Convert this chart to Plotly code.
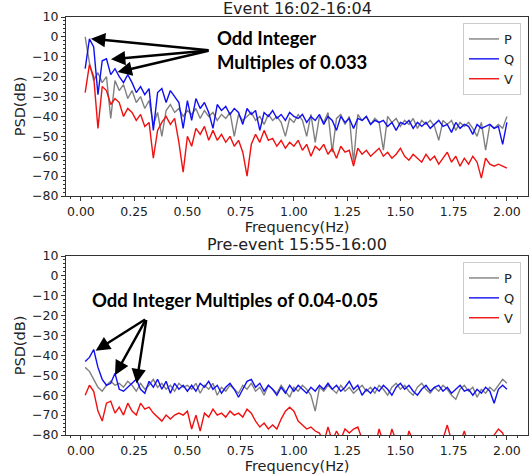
import plotly.graph_objects as go

# ---------------- data ----------------
N_POINTS = 100
FREQ_STEP = 0.02
freq = [round(FREQ_STEP * (i + 1), 2) for i in range(N_POINTS)]

event_P = [0, -13, -22, -18, -23, -20, -41, -22, -27, -24,
           -31, -27, -33, -30, -36, -32, -44, -38, -50, -37,
           -34, -38, -36, -40, -37, -39, -36, -41, -37, -40,
           -38, -42, -39, -41, -38, -50, -39, -42, -40, -38,
           -42, -40, -44, -39, -42, -40, -43, -50, -41, -43,
           -39, -42, -50, -39, -53, -40, -43, -38, -58, -41,
           -39, -44, -40, -63, -39, -42, -40, -44, -41, -43,
           -57, -40, -43, -41, -45, -42, -44, -41, -46, -42,
           -44, -42, -45, -52, -42, -44, -42, -47, -43, -45,
           -43, -46, -50, -43, -57, -44, -46, -44, -46, -40]

event_Q = [-16, -1, -5, -29, -12, -11, -19, -16, -20, -23,
           -19, -23, -28, -25, -29, -26, -47, -28, -26, -33,
           -27, -30, -33, -46, -32, -42, -31, -36, -33, -38,
           -46, -34, -37, -35, -39, -36, -38, -44, -36, -39,
           -37, -47, -38, -40, -37, -41, -39, -42, -38, -40,
           -41, -39, -43, -40, -42, -39, -44, -40, -42, -47,
           -40, -43, -41, -46, -41, -42, -40, -44, -42, -43,
           -42, -45, -43, -47, -43, -44, -42, -46, -43, -45,
           -43, -46, -44, -42, -45, -44, -48, -43, -46, -44,
           -45, -49, -44, -46, -45, -44, -46, -45, -54, -43]

event_V = [-28, -14, -20, -46, -25, -27, -34, -31, -33, -40,
           -36, -38, -42, -39, -45, -43, -61, -47, -43, -40,
           -44, -41, -53, -68, -50, -55, -46, -49, -45, -52,
           -47, -52, -49, -53, -50, -55, -52, -58, -70, -54,
           -49, -53, -47, -52, -51, -55, -52, -56, -53, -55,
           -52, -57, -54, -60, -55, -57, -54, -59, -56, -61,
           -55, -58, -57, -65, -56, -59, -57, -60, -58, -56,
           -60, -58, -61, -59, -56, -60, -62, -59, -61, -63,
           -59, -62, -60, -64, -61, -58, -63, -60, -65, -61,
           -64, -60, -63, -71, -61, -64, -65, -64, -65, -66]

pre_P = [-46, -48, -52, -56, -58, -55, -53, -55, -54, -56,
         -53, -55, -58, -54, -57, -55, -52, -56, -54, -57,
         -55, -58, -54, -56, -55, -57, -54, -59, -55, -57,
         -54, -60, -56, -58, -55, -57, -59, -55, -57, -54,
         -58, -56, -60, -55, -57, -59, -55, -58, -61, -56,
         -58, -55, -57, -60, -68, -56, -58, -55, -57, -59,
         -55, -58, -56, -59, -57, -55, -58, -56, -59, -55,
         -57, -60, -56, -54, -57, -55, -58, -60, -56, -54,
         -57, -59, -56, -58, -55, -57, -60, -62, -57, -55,
         -58, -56, -61, -57, -59, -56, -58, -55, -52, -54]

pre_Q = [-43, -41, -37, -46, -52, -55, -54, -49, -57, -58,
         -56, -54, -52, -57, -59, -53, -56, -52, -57, -53,
         -59, -54, -57, -55, -58, -55, -58, -54, -56, -53,
         -57, -55, -59, -56, -54, -57, -61, -57, -53, -52,
         -56, -54, -58, -55, -57, -60, -56, -59, -55, -58,
         -55, -57, -59, -56, -58, -55, -57, -54, -57, -55,
         -58, -56, -53, -57, -55, -60, -57, -59, -56, -58,
         -55, -57, -60, -56, -54, -57, -55, -58, -60, -57,
         -55, -58, -56, -55, -58, -56, -59, -57, -55, -58,
         -57, -60, -57, -59, -56, -58, -64, -57, -55, -57]

pre_V = [-60, -55, -58, -68, -73, -64, -63, -69, -66, -70,
         -64, -68, -70, -64, -67, -66, -69, -71, -73, -70,
         -72, -70, -69, -70, -68, -77, -70, -78, -69, -71,
         -67, -70, -69, -71, -68, -70, -69, -71, -67, -69,
         -73, -76, -74, -77, -75, -77, -72, -68, -66, -68,
         -73, -75, -77, -76, -78, -79, -84, -76, -83, -78,
         -82, -77, -79, -77, -76, -82, -85, -83, -86, -77,
         -84, -86, -77, -83, -85, -87, -78, -83, -86, -84,
         -88, -85, -87, -84, -82, -75, -83, -86, -84, -78,
         -85, -87, -85, -88, -86, -84, -80, -77, -79, -85]

SERIES_NAMES = ["P", "Q", "V"]
SERIES_COLORS = ["#808080", "#1010f0", "#f01010"]
TITLES = ["Event 16:02-16:04", "Pre-event 15:55-16:00"]
NOTE_TOP = ["Odd Integer", "Multiples of 0.033"]
NOTE_BOTTOM = "Odd Integer Multiples of 0.04-0.05"
X_TICKS = [0.0, 0.25, 0.5, 0.75, 1.0, 1.25, 1.5, 1.75, 2.0]
Y_TICKS = [10, 0, -10, -20, -30, -40, -50, -60, -70, -80]

# arrow heads / tails (data coordinates)
top_arrow_tail = (0.606, -6.8)
top_arrow_heads = [(0.047, -0.9), (0.141, -11.3), (0.172, -17.7)]
bot_arrow_tail = (0.308, -21.4)
bot_arrow_heads = [(0.069, -37.6), (0.160, -49.9), (0.261, -54.0)]

# ---------------- figure ----------------
W, H = 532, 476
fig = go.Figure()

panels = [
    ("x", "y", "legend", [event_P, event_Q, event_V]),
    ("x2", "y2", "legend2", [pre_P, pre_Q, pre_V]),
]
for xa, ya, lg, series in panels:
    for name, color, vals in zip(SERIES_NAMES, SERIES_COLORS, series):
        fig.add_trace(go.Scatter(
            x=freq, y=vals, mode="lines", name=name,
            line=dict(color=color, width=1.4),
            xaxis=xa, yaxis=ya, legend=lg,
        ))

FONT = "DejaVu Sans"
TXT = "#222222"
AX = "#333333"

def px_x(p):
    return p / W

def px_y(p):
    return 1 - p / H

x_dom = [px_x(66), px_x(528)]
axis_common = dict(
    showline=True, linecolor=AX, linewidth=1, mirror=True,
    ticks="outside", ticklen=4, tickcolor=AX, showgrid=False, zeroline=False,
    tickfont=dict(family=FONT, size=12.5, color=TXT), automargin=False,
)
xcommon = dict(axis_common, range=[-0.07, 2.099], tickvals=X_TICKS,
               ticktext=[f"{v:.2f}" for v in X_TICKS],
               minor=dict(ticks="outside", ticklen=2, tickcolor=AX, dtick=0.05),
               title=dict(text="Frequency(Hz)", standoff=2,
                          font=dict(family=FONT, size=14.5, color=TXT)))
ycommon = dict(axis_common, range=[-80, 10], tickvals=Y_TICKS,
               minor=dict(ticks="outside", ticklen=2, tickcolor=AX, dtick=2),
               title=dict(text="PSD(dB)", standoff=3,
                          font=dict(family=FONT, size=14.5, color=TXT)))

fig.update_layout(
    width=W, height=H,
    margin=dict(l=0, r=0, t=0, b=0, pad=0),
    paper_bgcolor="white", plot_bgcolor="white",
    xaxis=dict(xcommon, domain=x_dom, anchor="y"),
    yaxis=dict(ycommon, domain=[px_y(196), px_y(17)], anchor="x"),
    xaxis2=dict(xcommon, domain=x_dom, anchor="y2"),
    yaxis2=dict(ycommon, domain=[px_y(435), px_y(256)], anchor="x2"),
)

legend_common = dict(
    xanchor="right", yanchor="top", x=px_x(521),
    bgcolor="rgba(255,255,255,0.9)", bordercolor="#cccccc", borderwidth=1,
    font=dict(family=FONT, size=13, color=TXT), itemwidth=30,
    tracegroupgap=0,
)
fig.update_layout(
    legend=dict(legend_common, y=px_y(23)),
    legend2=dict(legend_common, y=px_y(262)),
)

annotations = []
# titles
for title, ypix in zip(TITLES, [8, 245]):
    annotations.append(dict(
        text=title, xref="paper", yref="paper", x=px_x(297), y=px_y(ypix),
        xanchor="center", yanchor="middle", showarrow=False,
        font=dict(family=FONT, size=16, color=TXT)))

# notes
annotations.append(dict(
    text="<br>".join("<b>" + s + "</b>" for s in NOTE_TOP),
    xref="paper", yref="paper", x=px_x(215), y=px_y(50),
    xanchor="left", yanchor="middle", align="left", showarrow=False,
    font=dict(family="Lato", size=18.5, color="black")))
annotations.append(dict(
    text="<b>" + NOTE_BOTTOM + "</b>",
    xref="paper", yref="paper", x=px_x(90), y=px_y(300),
    xanchor="left", yanchor="middle", align="left", showarrow=False,
    font=dict(family="Lato", size=18.5, color="black")))

# arrows
for (tail, heads, xr, yr) in [(top_arrow_tail, top_arrow_heads, "x", "y"),
                               (bot_arrow_tail, bot_arrow_heads, "x2", "y2")]:
    for hx, hy in heads:
        annotations.append(dict(
            text="", x=hx, y=hy, xref=xr, yref=yr,
            ax=tail[0], ay=tail[1], axref=xr, ayref=yr,
            showarrow=True, arrowhead=2, arrowsize=1.2, arrowwidth=2.4,
            arrowcolor="black", standoff=0, startstandoff=0))

fig.update_layout(annotations=annotations)

fig.write_html("out.html",
               config={"displayModeBar": False, "staticPlot": True},
               post_script="document.body.style.margin='0';")
